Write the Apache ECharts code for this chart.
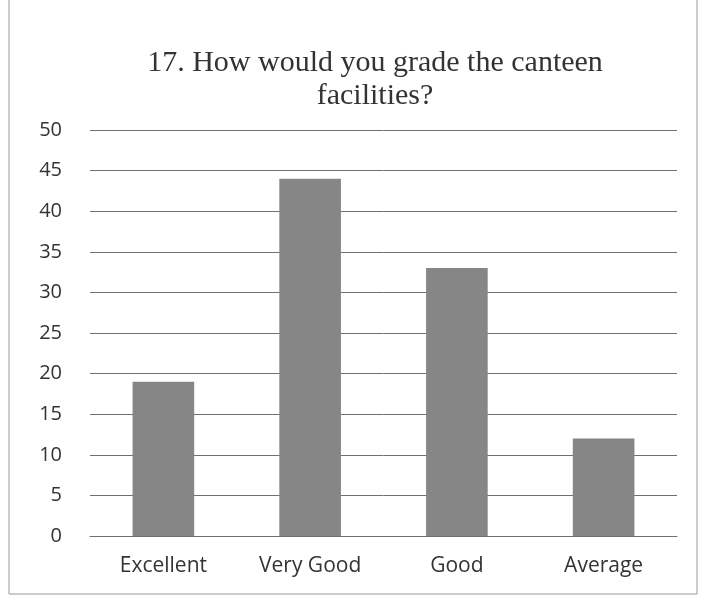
<!DOCTYPE html>
<html>
<head>
<meta charset="utf-8">
<script src="https://cdn.jsdelivr.net/npm/echarts@6/dist/echarts.min.js"></script>
<style>
  html, body { margin: 0; padding: 0; background: #fff; }
  #main { width: 701px; height: 600px; }
</style>
</head>
<body>
<div id="main"></div>
<script>
// survey answers
const categories = ['Excellent', 'Very Good', 'Good', 'Average']
const responses = [19, 44, 33, 12]
const titleText = '17. How would you grade the canteen\nfacilities?'

const chart = echarts.init(document.getElementById('main'))

chart.setOption({
  animation: false,
  backgroundColor: '#fff',
  // thin frame of the scanned chart box
  graphic: [{
    type: 'rect',
    shape: { x: 9, y: -2, width: 688, height: 596 },
    style: { fill: 'none', stroke: '#9a9a9a', lineWidth: 1 }
  }],
  title: {
    text: titleText,
    left: 370,
    textAlign: 'center',
    top: 42,
    textStyle: {
      fontFamily: 'Liberation Serif',
      fontWeight: 'normal',
      fontSize: 30,
      lineHeight: 33,
      color: '#333'
    }
  },
  grid: {
    left: 90,
    right: 24,
    top: 130,
    bottom: 64
  },
  xAxis: {
    type: 'category',
    data: categories,
    axisTick: { show: false },
    axisLine: { lineStyle: { color: '#707070', width: 1 } },
    axisLabel: {
      margin: 20,
      fontFamily: 'Open Sans',
      fontSize: 21,
      color: '#333'
    }
  },
  yAxis: {
    type: 'value',
    min: 0,
    max: 50,
    interval: 5,
    axisLine: { show: false },
    axisTick: { show: false },
    axisLabel: {
      margin: 28,
      fontFamily: 'Open Sans',
      fontSize: 20,
      color: '#333'
    },
    splitLine: { lineStyle: { color: '#707070', width: 1 } }
  },
  series: [{
    type: 'bar',
    data: responses,
    barWidth: '42%',
    itemStyle: { color: '#868686' }
  }]
})
</script>
</body>
</html>
